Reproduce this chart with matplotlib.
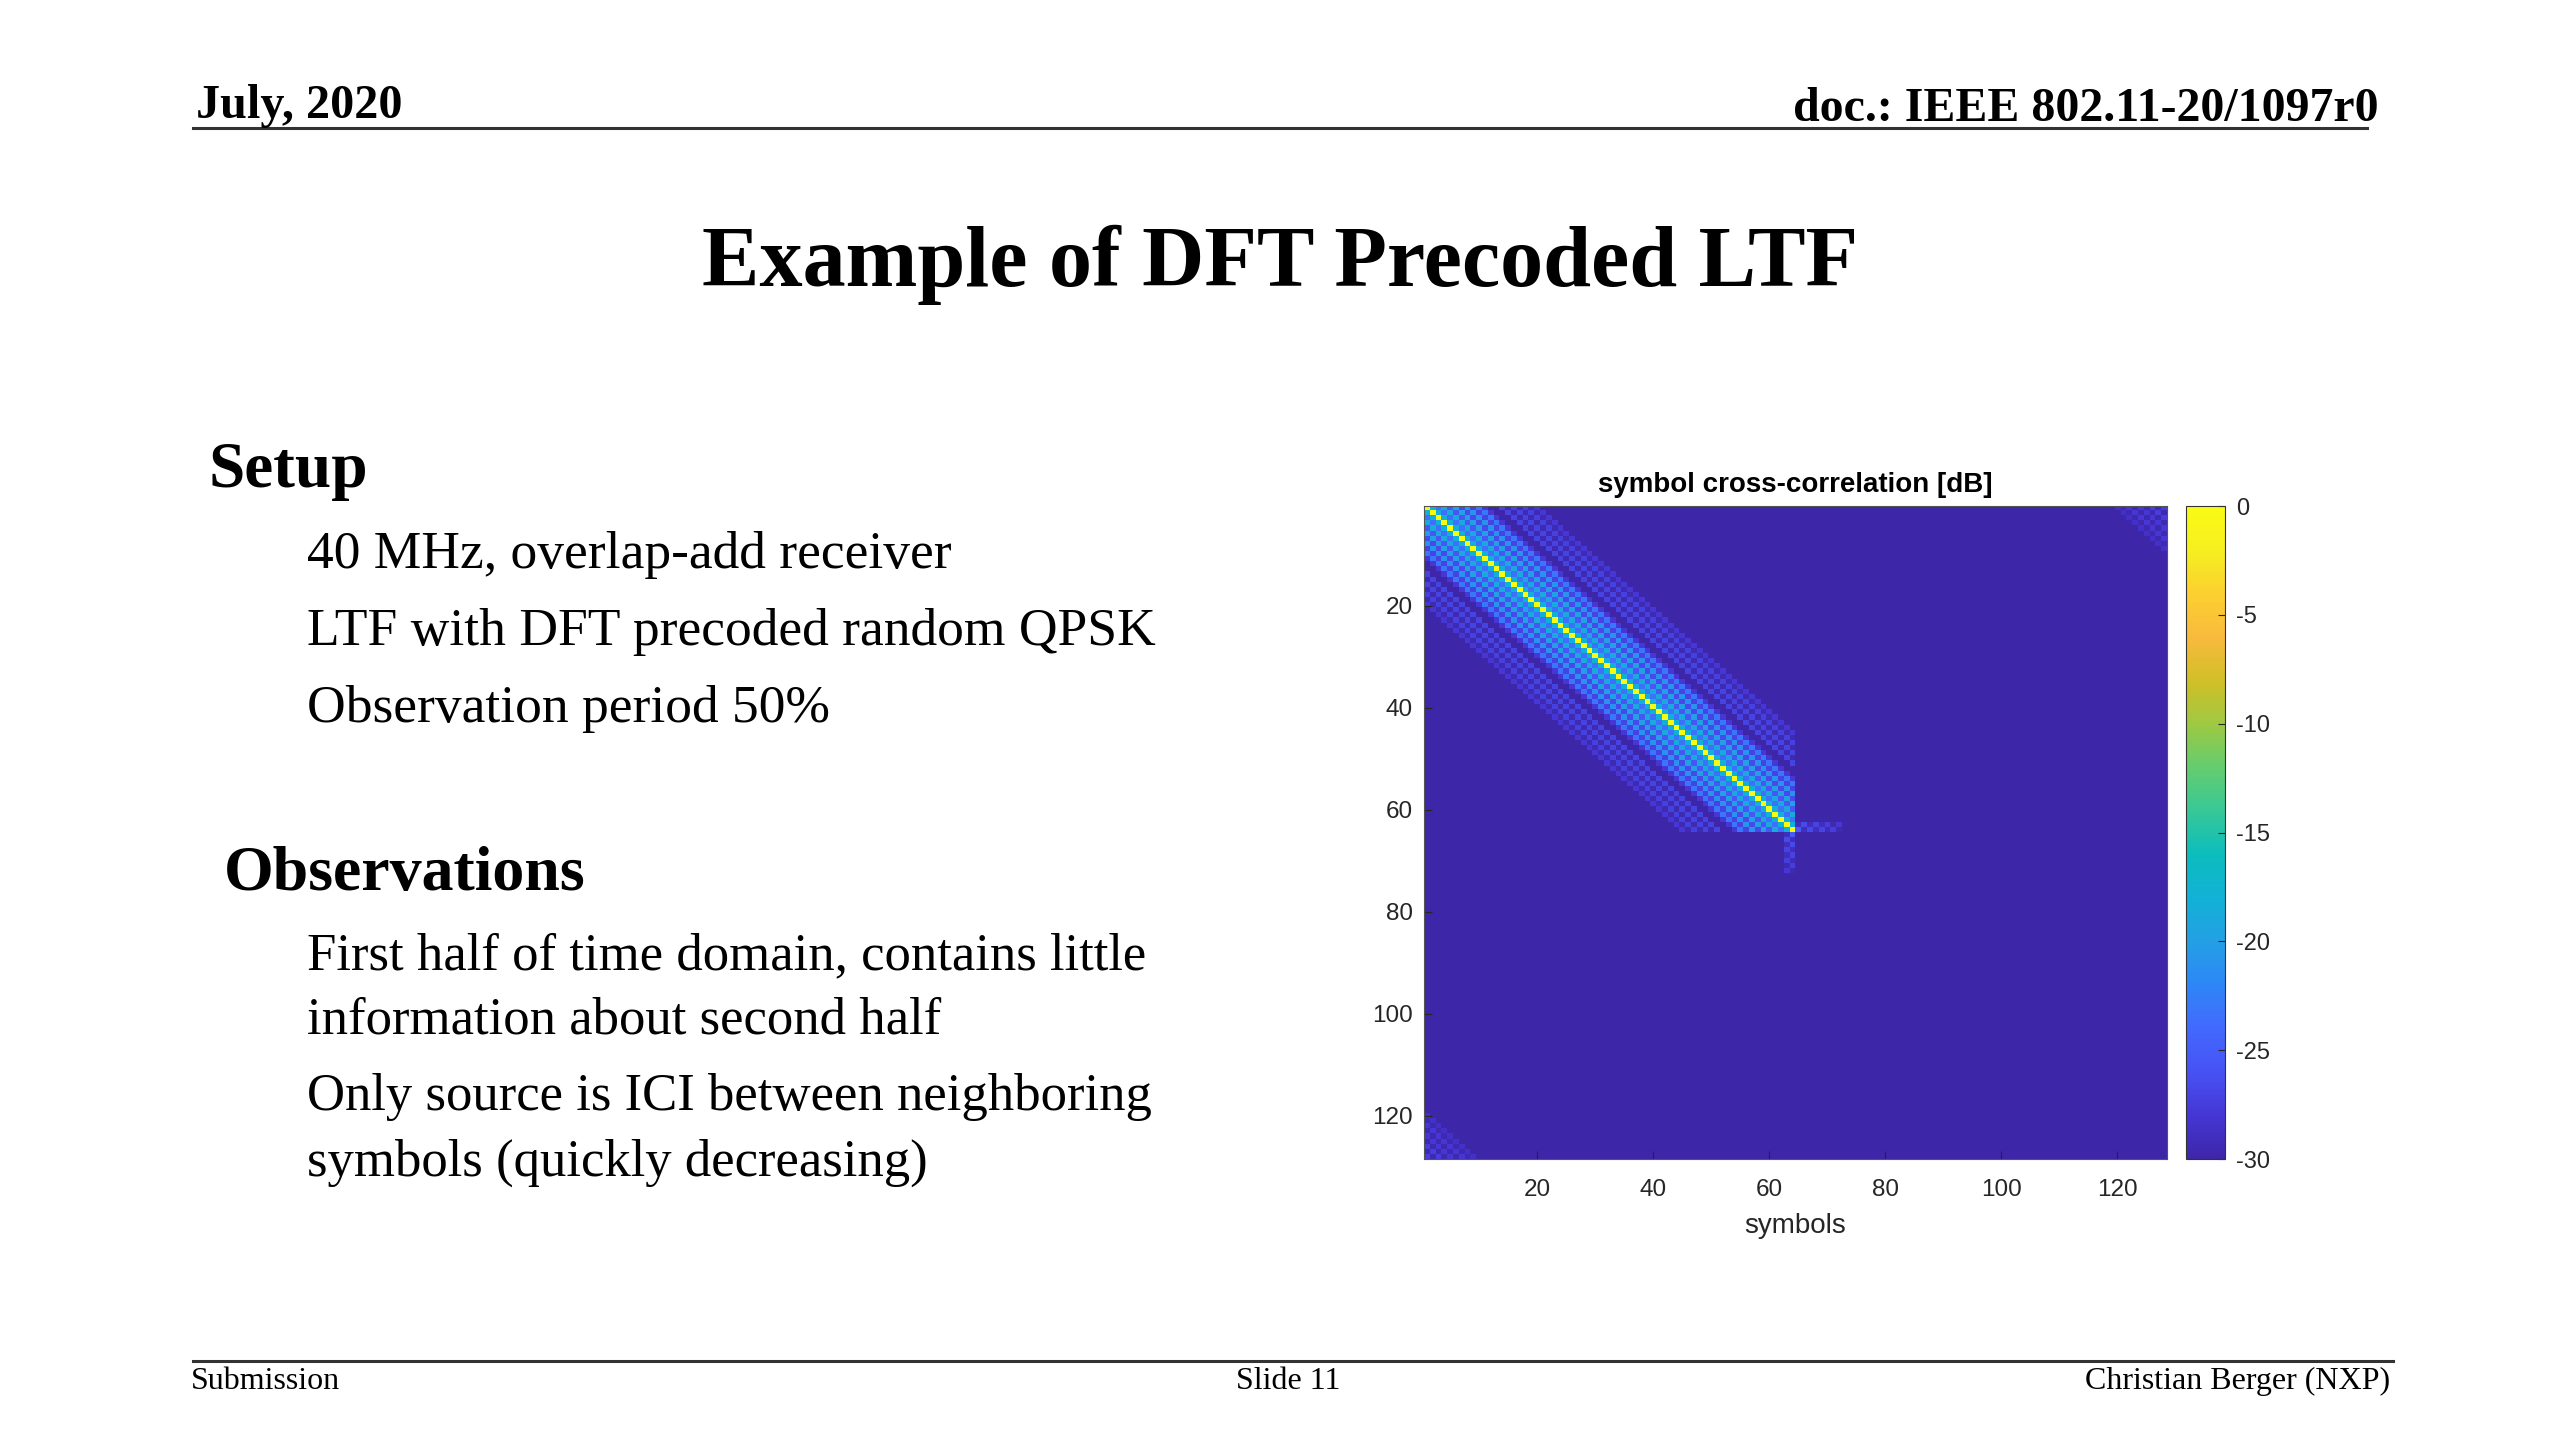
import numpy as np
import matplotlib
matplotlib.use("Agg")
import matplotlib.pyplot as plt
from matplotlib.colors import LinearSegmentedColormap

plt.rcParams["axes.unicode_minus"] = False

# ---- data ----
n_symbols = 128          # symbols on each axis
n_observed = 64          # symbols inside the observation period

# cross-correlation level (dB) vs. distance |i-j| inside the observed block
band_db = [0, -18, -23.5, -19, -25.5, -20, -26.5, -21, -27, -23, -28,
           -30, -30, -27, -29.5, -27, -29.5, -27.3, -29.5, -28]
# leakage past the end of the block (row/column 64), by distance 1..8
arm_db = [-25, -29, -26.5, -29, -27, -29.2, -27.5, -29.5]
arm_side_db = [-29, -26.5, -29, -27, -29, -27.5, -29.5, -28]
# wrap-around corners, by circular distance 1..9
corner_db = [-27.5, -29.6, -27.5, -29.6, -28, -29.6, -28, -29.6, -28.5]

floor_db = -30
cbar_ticks = [0, -5, -10, -15, -20, -25, -30]
axis_ticks = [20, 40, 60, 80, 100, 120]

setup_lines = ["40 MHz, overlap-add receiver",
               "LTF with DFT precoded random QPSK",
               "Observation period 50%"]
obs_lines = ["First half of time domain, contains little",
             "information about second half",
             "Only source is ICI between neighboring",
             "symbols (quickly decreasing)"]

# ---- build the matrix ----
corr = np.full((n_symbols, n_symbols), float(floor_db))
for i in range(n_observed):
    for j in range(n_observed):
        k = abs(i - j)
        if k < len(band_db):
            corr[i, j] = band_db[k]
e = n_observed - 1
for d in range(1, len(arm_db) + 1):
    corr[e, e + d] = arm_db[d - 1]
    corr[e + d, e] = arm_db[d - 1]
    corr[e - 1, e + d] = arm_side_db[d - 1]
    corr[e + d, e - 1] = arm_side_db[d - 1]
for i in range(len(corner_db)):
    for j in range(n_symbols - len(corner_db), n_symbols):
        d = i - j + n_symbols
        if 1 <= d <= len(corner_db):
            corr[i, j] = corner_db[d - 1]
            corr[j, i] = corner_db[d - 1]

# parula-like colormap
parula_pts = [
    (0.2422, 0.1504, 0.6603), (0.2706, 0.2147, 0.8364), (0.2810, 0.3228, 0.9579),
    (0.2602, 0.4123, 0.9952), (0.1786, 0.5289, 0.9682), (0.1380, 0.6276, 0.8973),
    (0.0689, 0.6948, 0.8394), (0.0433, 0.7411, 0.7394), (0.2161, 0.7843, 0.5923),
    (0.3909, 0.8029, 0.4354), (0.6174, 0.7876, 0.2612), (0.8203, 0.7498, 0.1535),
    (0.9728, 0.7298, 0.2394), (0.9892, 0.8136, 0.1885), (0.9628, 0.9373, 0.1265),
    (0.9769, 0.9839, 0.0805)]
parula = LinearSegmentedColormap.from_list("parula", parula_pts, N=256)

# ---- figure ----
W, H = 1568.0, 882.0
def fx(x): return x / W
def fy(y): return 1 - y / H

fig = plt.figure(figsize=(25.6, 14.4), dpi=100)
fig.patch.set_facecolor("white")
serif = "Liberation Serif"
sans = "Liberation Sans"

# header / footer
fig.text(fx(120), fy(72), "July, 2020", family=serif, weight="bold", fontsize=34.7,
         ha="left", va="baseline")
fig.text(fx(1457), fy(74), "doc.: IEEE 802.11-20/1097r0", family=serif, weight="bold",
         fontsize=34.5, ha="right", va="baseline")
fig.add_artist(plt.Line2D([fx(118), fx(1450)], [fy(78.5), fy(78.5)], color="#333333", lw=2.2))
fig.add_artist(plt.Line2D([fx(118), fx(1466)], [fy(833.5), fy(833.5)], color="#333333", lw=2.2))
fig.text(fx(117), fy(851), "Submission", family=serif, fontsize=23, ha="left", va="baseline")
fig.text(fx(789), fy(851), "Slide 11", family=serif, fontsize=23, ha="center", va="baseline")
fig.text(fx(1464), fy(851), "Christian Berger (NXP)", family=serif, fontsize=23,
         ha="right", va="baseline")

fig.text(fx(784), fy(175), "Example of DFT Precoded LTF", family=serif, weight="bold",
         fontsize=62, ha="center", va="baseline")

fig.text(fx(128), fy(298), "Setup", family=serif, weight="bold", fontsize=47,
         ha="left", va="baseline")
for k, line in enumerate(setup_lines):
    fig.text(fx(188), fy(348 + 47 * k), line, family=serif, fontsize=38.5,
             ha="left", va="baseline")
fig.text(fx(137), fy(545), "Observations", family=serif, weight="bold", fontsize=46,
         ha="left", va="baseline")
obs_y = [594, 633, 680, 720]
for yy, line in zip(obs_y, obs_lines):
    fig.text(fx(188), fy(yy), line, family=serif, fontsize=38, ha="left", va="baseline")

# heatmap
ax = fig.add_axes([fx(872), fy(710), fx(1327) - fx(872), fy(310) - fy(710)])
im = ax.imshow(corr, cmap=parula, vmin=floor_db, vmax=0, aspect="auto",
               interpolation="nearest",
               extent=[0.5, n_symbols + 0.5, n_symbols + 0.5, 0.5])
ax.set_xticks(axis_ticks)
ax.set_yticks(axis_ticks)
ax.tick_params(direction="in", length=6, width=0.8, colors="#262626", labelsize=17.5)
ax.tick_params(axis="x", pad=14)
ax.tick_params(axis="y", pad=8)
for lab in ax.get_xticklabels() + ax.get_yticklabels():
    lab.set_family(sans)
for s in ax.spines.values():
    s.set_linewidth(0.8)
    s.set_color("#555555")
ax.set_xlabel("symbols", family=sans, fontsize=20, color="#262626", labelpad=9)
ax.set_title("symbol cross-correlation [dB]", family=sans, fontsize=20,
             weight="bold", pad=10)

cax = fig.add_axes([fx(1339), fy(710), fx(1363) - fx(1339), fy(310) - fy(710)])
cb = fig.colorbar(im, cax=cax, ticks=cbar_ticks)
cb.outline.set_linewidth(0.8)
cb.outline.set_edgecolor("#333333")
cax.tick_params(direction="in", length=5, width=0.8, colors="#262626",
                labelsize=17, pad=8)
for lab in cax.get_yticklabels():
    lab.set_family(sans)

fig.savefig("out.png", dpi=100)
